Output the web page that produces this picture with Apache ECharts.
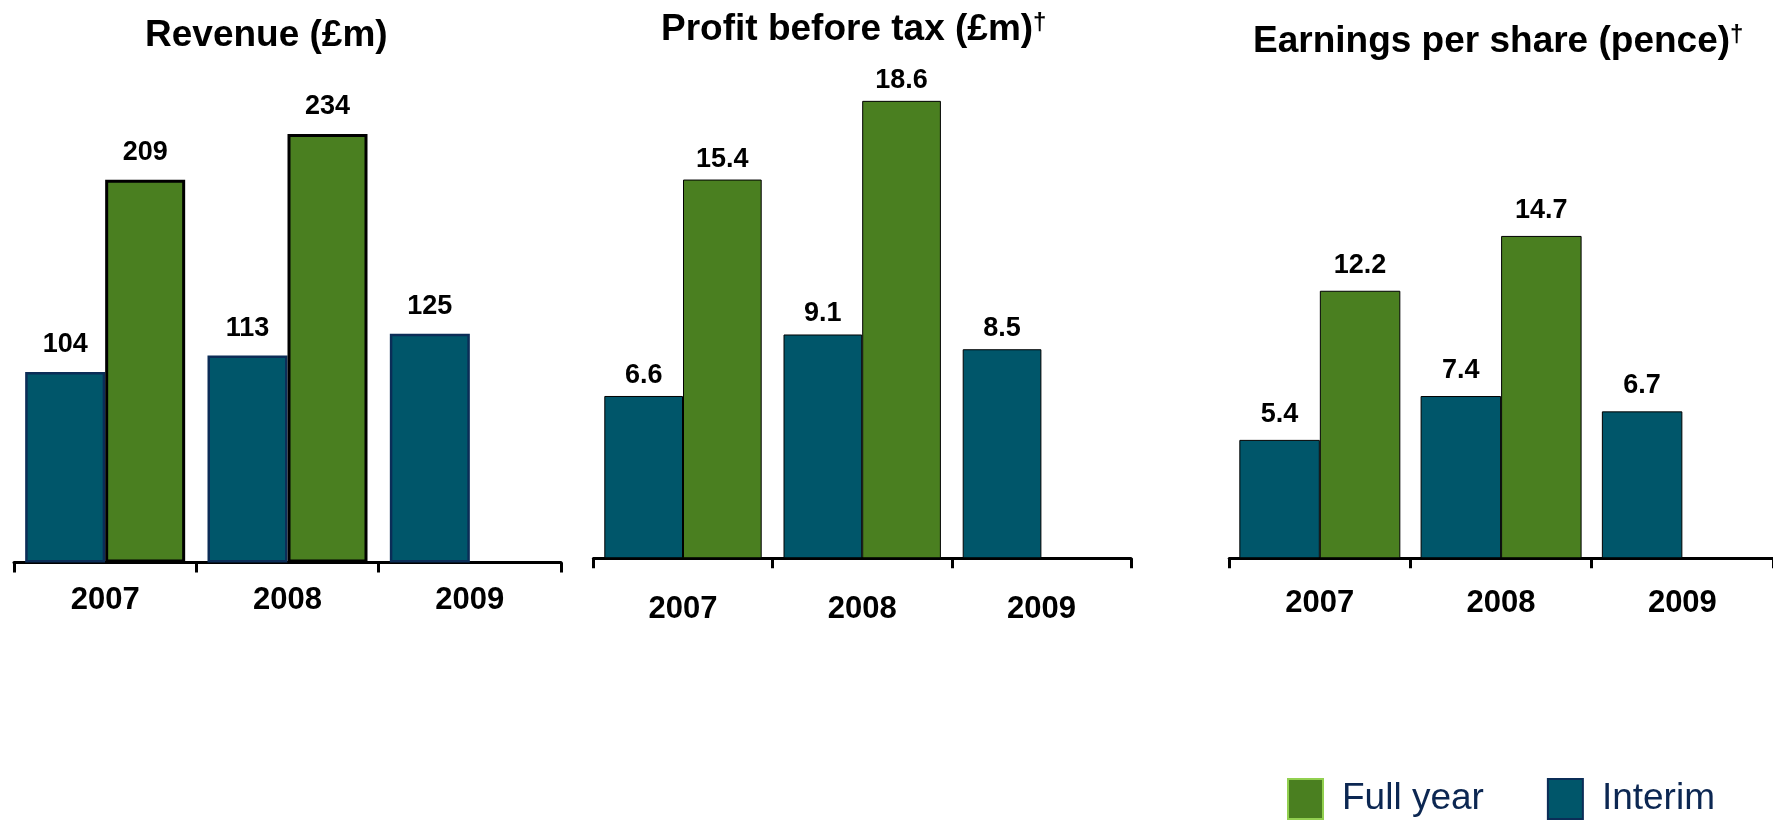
<!DOCTYPE html>
<html>
<head>
<meta charset="utf-8">
<script src="https://cdn.jsdelivr.net/npm/echarts@6/dist/echarts.min.js"></script>
<style>
  html, body { margin: 0; padding: 0; background: #ffffff; }
  #chart { width: 1773px; height: 821px; }
</style>
</head>
<body>
<div id="chart"></div>
<script>
// Half-year and full-year results, 2007 to 2009
const years = ['2007', '2008', '2009'];

const revenueInterim = [104, 113, 125];
const revenueFullYear = [209, 234, null];

const profitInterim = [6.6, 9.1, 8.5];
const profitFullYear = [15.4, 18.6, null];

const epsInterim = [5.4, 7.4, 6.7];
const epsFullYear = [12.2, 14.7, null];

const panelTitles = ['Revenue (£m)', 'Profit before tax (£m){sup|†}', 'Earnings per share (pence){sup|†}'];

const GREEN = '#4a7f20';
const TEAL = '#00566a';

const chart = echarts.init(document.getElementById('chart'), null, { renderer: 'canvas' });

// Each panel: grid box, axis maximum, bar width, label offsets
const panels = [
  { left: 14, width: 547, top: 62.5, bottom: 258.5, max: 273.1, barW: 80,
    interim: revenueInterim, full: revenueFullYear, catMargin: 22, labelGap: 14,
    interimBorder: { color: '#0b2d57', width: 2.5 }, fullBorder: { color: '#000', width: 3 },
    titleLeft: 140, titleTop: 12 },
  { left: 593.4, width: 537.6, top: 58.3, bottom: 262.7, max: 20.33, barW: 78.7,
    interim: profitInterim, full: profitFullYear, catMargin: 36, labelGap: 7,
    interimBorder: { color: '#000', width: 1 }, fullBorder: { color: '#000', width: 1 },
    titleLeft: 656, titleTop: 6 },
  { left: 1229.2, width: 547.5, top: 58.3, bottom: 262.7, max: 22.8, barW: 80.5,
    interim: epsInterim, full: epsFullYear, catMargin: 30, labelGap: 12,
    interimBorder: { color: '#000', width: 1 }, fullBorder: { color: '#000', width: 1 },
    titleLeft: 1248, titleTop: 18 }
];

// Bold figures above the bars
const valueLabel = gap => ({
  show: true,
  position: 'top',
  distance: gap,
  fontFamily: '"Liberation Sans", Arial, sans-serif',
  fontWeight: 'bold',
  fontSize: 27,
  color: '#000'
});

const option = {
  animation: false,
  backgroundColor: '#ffffff',
  title: panels.map((p, i) => ({
    text: panelTitles[i],
    left: p.titleLeft,
    top: p.titleTop,
    textStyle: {
      fontFamily: '"Liberation Sans", Arial, sans-serif',
      fontWeight: 'bold',
      fontSize: 37,
      color: '#000',
      rich: {
        sup: {
          fontFamily: '"Liberation Sans", Arial, sans-serif',
          fontWeight: 'bold',
          fontSize: 24,
          color: '#000',
          verticalAlign: 'top',
          lineHeight: 22
        }
      }
    }
  })),
  legend: {
    left: 1287,
    top: 778,
    padding: 0,
    icon: 'rect',
    itemWidth: 35,
    itemHeight: 40,
    itemGap: 63,
    selectedMode: false,
    textStyle: {
      fontFamily: '"Liberation Sans", Arial, sans-serif',
      fontSize: 37,
      color: '#0c2752',
      padding: [0, 0, 0, 14]
    },
    data: [
      { name: 'Full year', itemStyle: { color: GREEN, borderColor: '#92d050', borderWidth: 2 } },
      { name: 'Interim', itemStyle: { color: TEAL, borderColor: '#0b2d57', borderWidth: 2 } }
    ]
  },
  grid: panels.map(p => ({ left: p.left, width: p.width, top: p.top, bottom: p.bottom, containLabel: false })),
  xAxis: panels.map((p, i) => ({
    type: 'category',
    gridIndex: i,
    data: years,
    axisLine: { show: true, lineStyle: { color: '#000', width: 3 } },
    axisTick: { show: true, length: 10, lineStyle: { color: '#000', width: 3 } },
    axisLabel: {
      margin: p.catMargin,
      fontFamily: '"Liberation Sans", Arial, sans-serif',
      fontWeight: 'bold',
      fontSize: 31,
      color: '#000'
    },
    splitLine: { show: false }
  })),
  yAxis: panels.map((p, i) => ({
    type: 'value',
    gridIndex: i,
    min: 0,
    max: p.max,
    show: false,
    splitLine: { show: false }
  })),
  series: panels.flatMap((p, i) => [
    {
      name: 'Interim',
      type: 'bar',
      xAxisIndex: i,
      yAxisIndex: i,
      data: p.interim,
      barWidth: p.barW,
      barGap: '0%',
      itemStyle: { color: TEAL, borderColor: p.interimBorder.color, borderWidth: p.interimBorder.width },
      label: valueLabel(p.labelGap),
      z: 1
    },
    {
      name: 'Full year',
      type: 'bar',
      xAxisIndex: i,
      yAxisIndex: i,
      data: p.full,
      barWidth: p.barW,
      barGap: '0%',
      itemStyle: { color: GREEN, borderColor: p.fullBorder.color, borderWidth: p.fullBorder.width },
      label: valueLabel(p.labelGap),
      z: 1
    }
  ])
};

chart.setOption(option);
</script>
</body>
</html>
